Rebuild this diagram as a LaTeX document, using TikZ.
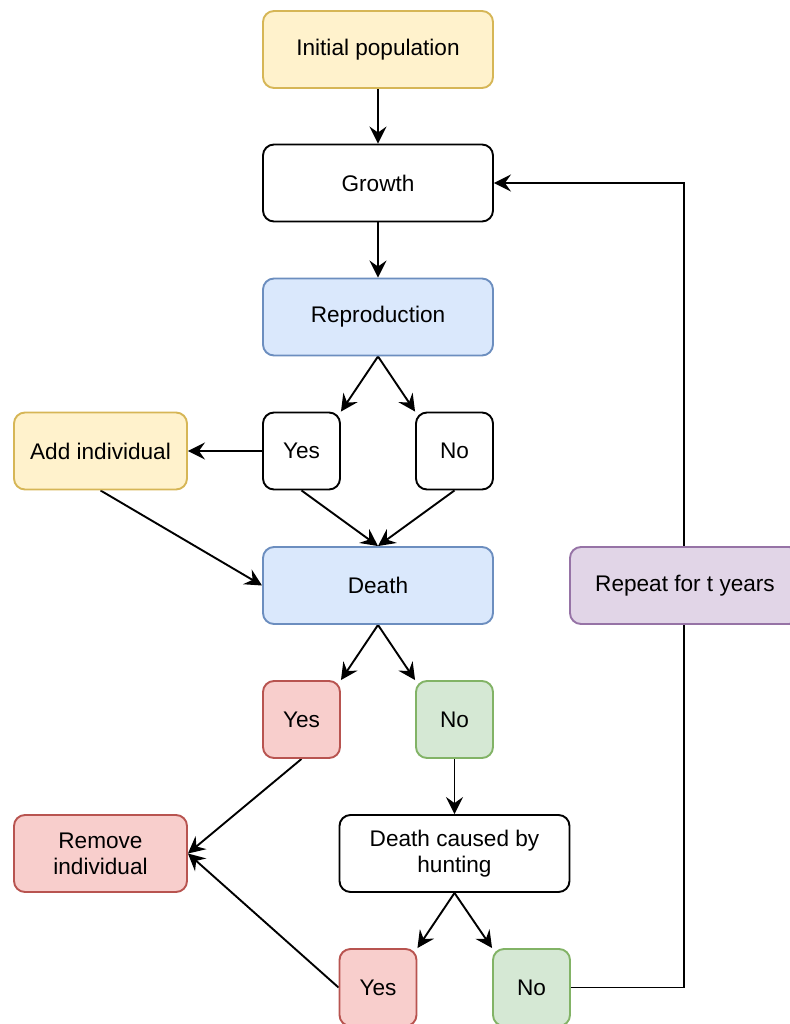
\documentclass[tikz,border=0pt]{standalone}
\usepackage{fontspec}
\setmainfont{Liberation Sans}
\usetikzlibrary{arrows.meta,backgrounds}
\definecolor{yfill}{HTML}{FFF2CC}\definecolor{ydraw}{HTML}{D6B656}
\definecolor{bfill}{HTML}{DAE8FC}\definecolor{bdraw}{HTML}{6C8EBF}
\definecolor{rfill}{HTML}{F8CECC}\definecolor{rdraw}{HTML}{B85450}
\definecolor{gfill}{HTML}{D5E8D4}\definecolor{gdraw}{HTML}{82B366}
\definecolor{pfill}{HTML}{E1D5E7}\definecolor{pdraw}{HTML}{9673A6}
\begin{document}
\begin{tikzpicture}[x=1pt,y=-1pt,
  box/.style={draw, fill=white, rounded corners=11pt, line width=1.9pt, inner sep=0pt, align=center, font=\fontsize{22.6}{26}\selectfont},
  wide/.style={box, minimum width=230pt, minimum height=77pt},
  sq/.style={box, minimum width=77pt, minimum height=77pt},
  mid/.style={box, minimum width=173pt, minimum height=77pt},
  yel/.style={fill=yfill, draw=ydraw},
  blu/.style={fill=bfill, draw=bdraw},
  red/.style={fill=rfill, draw=rdraw},
  grn/.style={fill=gfill, draw=gdraw},
  pur/.style={fill=pfill, draw=pdraw},
  arr/.style={line width=1.9pt, -{Stealth[length=17pt,width=17pt,inset=6pt]}}
]
\useasboundingbox (0,0) rectangle (789,1024);
\node[wide,yel] (init) at (378,49.5) {Initial population};
\node[wide] (growth) at (378,183) {Growth};
\node[wide,blu] (rep) at (378,317) {Reproduction};
\node[sq] (y1) at (301.5,451) {Yes};
\node[sq] (n1) at (454.5,451) {No};
\node[mid,yel] (add) at (100.5,451) {Add individual};
\node[wide,blu] (death) at (378,585.5) {Death};
\node[wide,pur] (repeat) at (685,585.5) {Repeat for t years};
\node[sq,red] (y2) at (301.5,719.5) {Yes};
\node[sq,grn] (n2) at (454.5,719.5) {No};
\node[mid,red] (rem) at (100.5,853.5) {Remove\\individual};
\node[wide] (dch) at (454.5,853.5) {Death caused by\\hunting};
\node[sq,red] (y3) at (378,987.5) {Yes};
\node[sq,grn] (n3) at (531.5,987.5) {No};
\coordinate (turn) at (684,987.5);
\begin{scope}[on background layer]
\draw[arr] (init.south) -- (growth.north);
\draw[arr] (growth.south) -- (rep.north);
\draw[arr] (rep.south) -- (y1.north east);
\draw[arr] (rep.south) -- (n1.north west);
\draw[arr] (y1.west) -- (add.east);
\draw[arr] (y1.south) -- (death.north);
\draw[arr] (n1.south) -- (death.north);
\draw[arr] (add.south) -- (death.west);
\draw[arr] (death.south) -- (y2.north east);
\draw[arr] (death.south) -- (n2.north west);
\draw[arr] (n2.south) -- (dch.north);
\draw[arr] (y2.south) -- (rem.east);
\draw[arr] (y3.west) -- (rem.east);
\draw[arr] (dch.south) -- (y3.north east);
\draw[arr] (dch.south) -- (n3.north west);
\draw[arr] (n3.east) -- (turn) |- (growth.east);
\end{scope}
\end{tikzpicture}
\end{document}
